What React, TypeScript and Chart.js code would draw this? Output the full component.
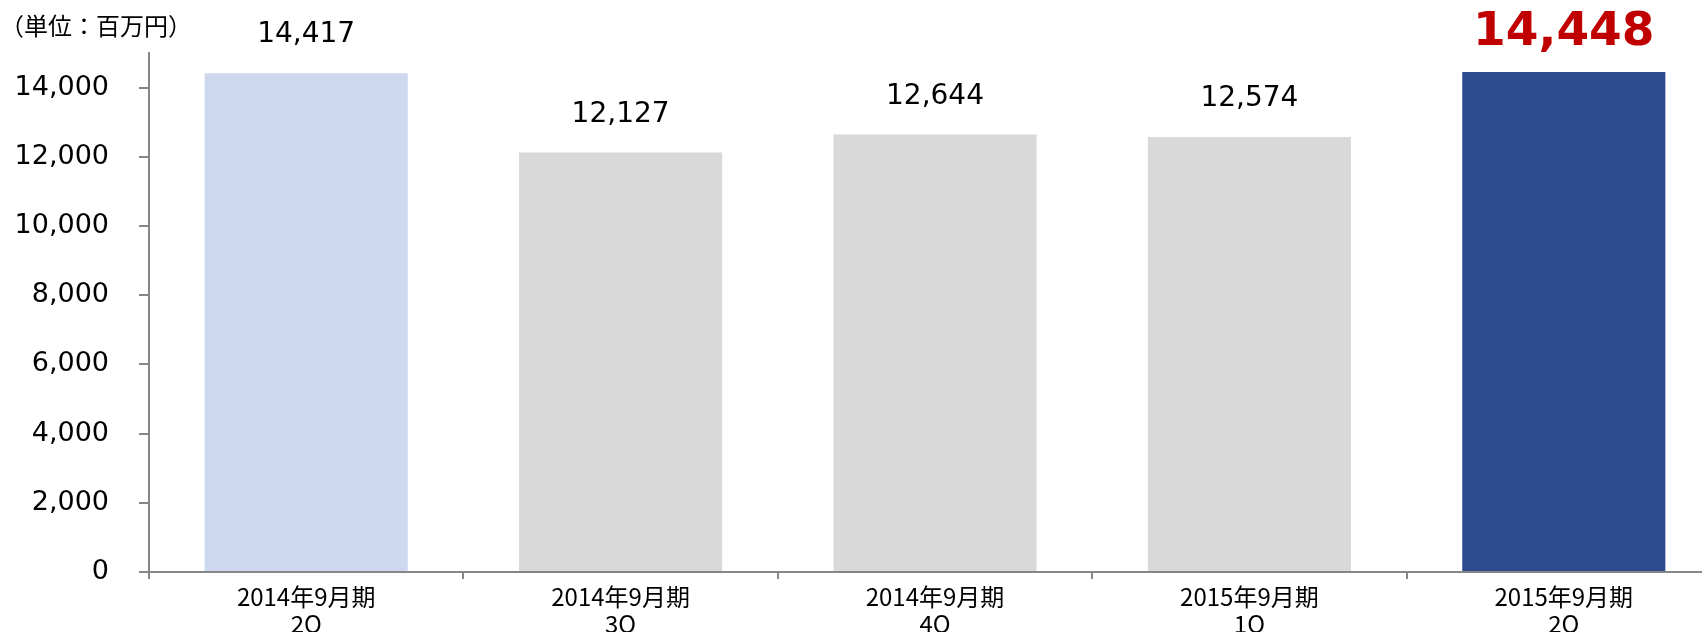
import React, { useEffect, useRef } from "react";
import { Chart, registerables } from "chart.js";

Chart.register(...registerables);

const categories: string[][] = [
  ["2014年9月期", "2Q"],
  ["2014年9月期", "3Q"],
  ["2014年9月期", "4Q"],
  ["2015年9月期", "1Q"],
  ["2015年9月期", "2Q"],
];
const salesValues: number[] = [14417, 12127, 12644, 12574, 14448];
const yTickValues: number[] = [0, 2000, 4000, 6000, 8000, 10000, 12000, 14000];
const unitLabel = "（単位：百万円）";

const fmt = (v: number) => Number(v).toLocaleString("en-US");

const valueLabelPlugin = {
  id: "valueLabels",
  afterDatasetsDraw(chart: any) {
    const ctx = chart.ctx;
    const meta = chart.getDatasetMeta(0);
    const last = meta.data.length - 1;
    meta.data.forEach((bar: any, i: number) => {
      const v = salesValues[i];
      ctx.save();
      ctx.textAlign = "center";
      ctx.textBaseline = "middle";
      if (i === last) {
        ctx.font = "bold 47px 'DejaVu Sans'";
        ctx.fillStyle = "#C00000";
        ctx.fillText(fmt(v), bar.x, bar.y - 39);
      } else {
        ctx.font = "28px 'DejaVu Sans'";
        ctx.fillStyle = "#000000";
        ctx.fillText(fmt(v), bar.x, bar.y - 38);
      }
      ctx.restore();
    });
  },
};

export default function App() {
  const canvasRef = useRef<HTMLCanvasElement | null>(null);

  useEffect(() => {
    const canvas = canvasRef.current;
    if (!canvas) return;
    const axisColor = "#868686";
    const chart = new Chart(canvas, {
      type: "bar",
      data: {
        labels: categories,
        datasets: [
          {
            data: salesValues,
            backgroundColor: ["#CDD7EE", "#D9D9D9", "#D9D9D9", "#D9D9D9", "#2E4A8F"],
            borderWidth: 0,
            categoryPercentage: 1,
            barPercentage: 0.646,
          },
        ],
      },
      options: {
        responsive: false,
        animation: false,
        layout: { padding: { top: 53, left: 0, right: 0, bottom: 0 } },
        plugins: {
          legend: { display: false },
          tooltip: { enabled: false },
        },
        scales: {
          x: {
            offset: true,
            grid: {
              offset: true,
              drawOnChartArea: false,
              drawTicks: true,
              tickLength: 7,
              color: axisColor,
              lineWidth: 2,
            },
            border: { display: true, color: axisColor, width: 2 },
            ticks: {
              color: "#000000",
              padding: 4,
              maxRotation: 0,
              autoSkip: false,
              font: { family: "'Noto Sans CJK JP'", size: 24, lineHeight: 1.13 },
            },
            afterFit: (scale: any) => {
              scale.height = 60;
            },
          },
          y: {
            min: 0,
            max: 15000,
            ticks: {
              stepSize: 2000,
              color: "#000000",
              padding: 30,
              font: { family: "'DejaVu Sans'", size: 27 },
              callback: (v: any) => fmt(Number(v)),
            },
            afterBuildTicks: (scale: any) => {
              scale.ticks = yTickValues.map((value) => ({ value }));
            },
            grid: {
              drawOnChartArea: false,
              drawTicks: true,
              tickLength: 10,
              color: axisColor,
              lineWidth: 2,
            },
            border: { display: true, color: axisColor, width: 2 },
            afterFit: (scale: any) => {
              scale.width = 149;
            },
          },
        },
      },
      plugins: [valueLabelPlugin],
    } as any);
    return () => chart.destroy();
  }, []);

  return (
    <div
      style={{
        position: "fixed",
        left: 0,
        top: 0,
        width: 1702,
        height: 632,
        overflow: "hidden",
        background: "#ffffff",
      }}
    >
      <canvas
        ref={canvasRef}
        width={1721}
        height={632}
        style={{ position: "absolute", left: 0, top: 0, width: 1721, height: 632 }}
      />
      <div
        style={{
          position: "absolute",
          left: 0,
          top: 10,
          fontFamily: "'Noto Sans CJK JP'",
          fontSize: 24,
          lineHeight: "30px",
          color: "#000000",
          whiteSpace: "nowrap",
        }}
      >
        {unitLabel}
      </div>
    </div>
  );
}
